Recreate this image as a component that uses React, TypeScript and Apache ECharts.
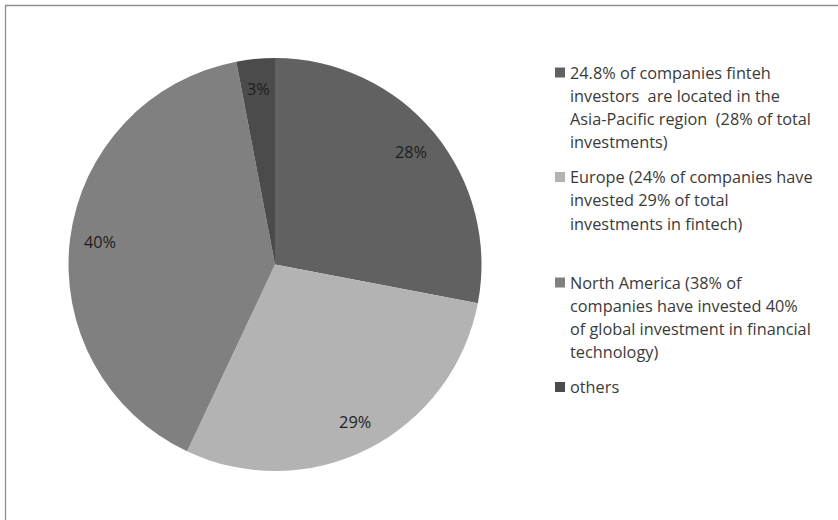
import React, { useEffect, useRef } from "react";
import * as echarts from "echarts";

const categories = [
  "24.8% of companies finteh investors  are located in the Asia-Pacific region  (28% of total investments)",
  "Europe (24% of companies have invested 29% of total investments in fintech)",
  "North America (38% of companies have invested 40% of global investment in financial technology)",
  "others",
];
const legendLines = [
  ["24.8% of companies finteh", "investors  are located in the", "Asia-Pacific region  (28% of total", "investments)"],
  ["Europe (24% of companies have", "invested 29% of total", "investments in fintech)"],
  ["North America (38% of", "companies have invested 40%", "of global investment in financial", "technology)"],
  ["others"],
];
const values = [28, 29, 40, 3];
const colors = ["#616161", "#b3b3b3", "#808080", "#4b4b4b"];

const FONT = "Open Sans";
const LH = 23.3;
const legendIconCenters = [72.5, 177, 282.5, 387];

export default function App() {
  const ref = useRef<HTMLDivElement>(null);
  useEffect(() => {
    if (!ref.current) return;
    const chart = echarts.init(ref.current, undefined, { renderer: "svg" });
    const R = 206.5;
    const center = [275, 264.5];
    const data = categories.map((name, i) => ({ name, value: values[i] }));
    const legends = categories.map((name, i) => {
      const n = legendLines[i].length;
      const padded = new Array(n - 1).fill("").concat(legendLines[i]).join("\n");
      return {
        data: [name],
        orient: "vertical" as const,
        left: 555,
        top: legendIconCenters[i] - ((2 * n - 1) * LH) / 2,
        padding: 0,
        icon: "rect",
        itemWidth: 10,
        itemHeight: 10,
        selectedMode: false,
        formatter: () => padded,
        textStyle: {
          fontFamily: FONT,
          fontSize: 16.3,
          color: "#3a3a3a",
          lineHeight: LH,
        },
      };
    });
    chart.setOption({
      animation: false,
      color: colors,
      graphic: [
        {
          type: "rect",
          shape: { x: 5.5, y: 5.5, width: 900, height: 600 },
          style: { fill: "none", stroke: "#8e8e8e", lineWidth: 1.3 },
          silent: true,
        },
      ],
      legend: legends,
      series: [
        {
          type: "pie",
          center,
          radius: [0, R],
          startAngle: 90,
          clockwise: true,
          label: { show: false },
          labelLine: { show: false },
          itemStyle: { borderWidth: 0 },
          emphasis: { disabled: true },
          data,
        },
        {
          type: "pie",
          center,
          radius: [R * 0.68, R],
          startAngle: 90,
          clockwise: true,
          silent: true,
          itemStyle: { color: "rgba(0,0,0,0)", borderWidth: 0 },
          label: {
            show: true,
            position: "inside",
            formatter: "{c}%",
            fontFamily: FONT,
            fontSize: 16.3,
            color: "#1e1e1e",
          },
          labelLine: { show: false },
          emphasis: { disabled: true },
          data,
        },
      ],
    });
    return () => chart.dispose();
  }, []);
  return (
    <div
      ref={ref}
      style={{ position: "fixed", left: 0, top: 0, width: 838, height: 520, background: "#fff" }}
    />
  );
}
